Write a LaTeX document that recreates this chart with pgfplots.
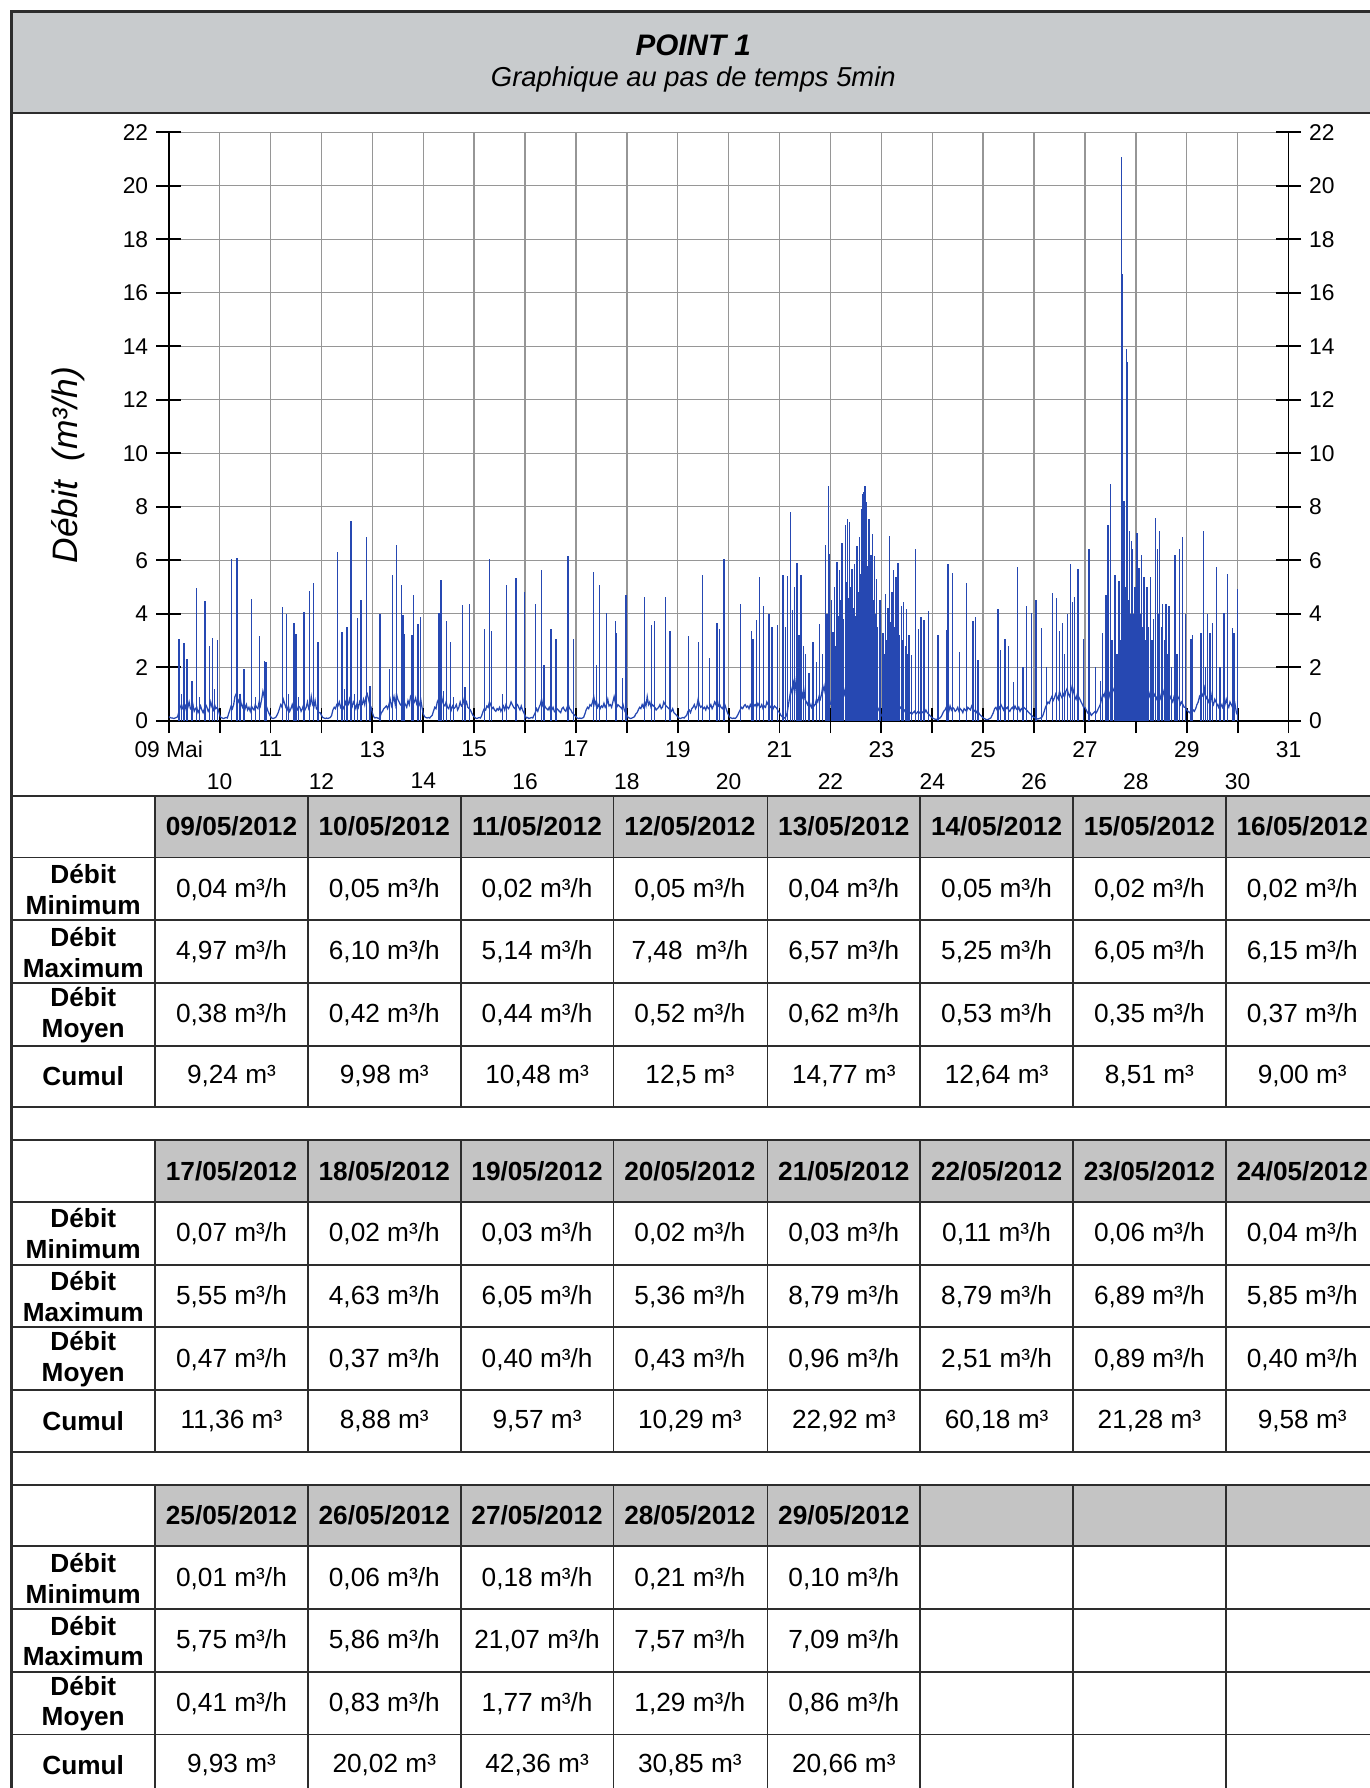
\documentclass[border=0pt]{standalone}
\usepackage{fontspec}
\setmainfont{Liberation Sans}
\usepackage{pgfplots}
\pgfplotsset{compat=1.18}
\definecolor{hdrgray}{RGB}{200,203,205}
\definecolor{cellgray}{RGB}{196,196,196}
\definecolor{framec}{RGB}{45,45,45}
\definecolor{gridgray}{RGB}{150,150,150}
\definecolor{dblue}{RGB}{38,72,178}
\pgfplotsset{
  base/.style={draw=dblue, line width=0.55pt},
  every axis/.append style={
    /pgf/number format/assume math mode=true,
    tick label style={font=\fontsize{10}{12}\selectfont},
  },
}
\tikzset{
  lab/.style={font=\bfseries\fontsize{11.5}{13.5}\selectfont, align=center},
  hdr/.style={font=\bfseries\fontsize{11.5}{14}\selectfont},
  val/.style={font=\fontsize{11.5}{14}\selectfont},
}
% one column of a daily table: x centre, table top, date, min, max, mean, total
\newcommand{\daycol}[7]{%
  \node[hdr] at (#1,#2+27) {#3};
  \node[val] at (#1,#2+82) {#4};
  \node[val] at (#1,#2+137) {#5};
  \node[val] at (#1,#2+192) {#6};
  \node[val] at (#1,#2+246) {#7};}

\begin{document}
\begin{tikzpicture}
\path[use as bounding box] (0,0) rectangle (600.5pt,-784pt);

\begin{scope}[x=0.5pt,y=-0.5pt]
  % title band
  \fill[hdrgray] (10,10) rectangle (1215,99);
  \draw[framec, line width=1.2pt] (1215,10) -- (10,10) -- (10,1580);
  \draw[framec, line width=1.2pt] (10,99) -- (1215,99);
  \node[font=\bfseries\itshape\fontsize{13}{15}\selectfont] at (608,40) {POINT 1};
  \node[font=\itshape\fontsize{12}{14}\selectfont] at (608,70) {Graphique au pas de temps 5min};
  \node[rotate=90, font=\itshape\fontsize{15.5}{18}\selectfont] at (60,408) {Débit\ \ (m³/h)};

  % tables
  \foreach \T in {698,1000,1302}{
    \fill[cellgray] (136,\T) rectangle (1215,\T+54);
    \foreach \o in {0,54,109,164,219,273}
      \draw[framec, line width=0.8pt] (10,\T+\o) -- (1215,\T+\o);
    \foreach \X in {136,270,404,538,673,807,941,1075}
      \draw[framec, line width=0.8pt] (\X,\T) -- (\X,\T+273);
    \node[lab] at (73,\T+82) {Débit\\Minimum};
    \node[lab] at (73,\T+137) {Débit\\Maximum};
    \node[lab] at (73,\T+192) {Débit\\Moyen};
    \node[lab] at (73,\T+246) {Cumul};
  }

  \daycol{203}{698}{09/05/2012}{0,04 m³/h}{4,97 m³/h}{0,38 m³/h}{9,24 m³}
  \daycol{337}{698}{10/05/2012}{0,05 m³/h}{6,10 m³/h}{0,42 m³/h}{9,98 m³}
  \daycol{471}{698}{11/05/2012}{0,02 m³/h}{5,14 m³/h}{0,44 m³/h}{10,48 m³}
  \daycol{605}{698}{12/05/2012}{0,05 m³/h}{7,48\enspace m³/h}{0,52 m³/h}{12,5 m³}
  \daycol{740}{698}{13/05/2012}{0,04 m³/h}{6,57 m³/h}{0,62 m³/h}{14,77 m³}
  \daycol{874}{698}{14/05/2012}{0,05 m³/h}{5,25 m³/h}{0,53 m³/h}{12,64 m³}
  \daycol{1008}{698}{15/05/2012}{0,02 m³/h}{6,05 m³/h}{0,35 m³/h}{8,51 m³}
  \daycol{1142}{698}{16/05/2012}{0,02 m³/h}{6,15 m³/h}{0,37 m³/h}{9,00 m³}

  \daycol{203}{1000}{17/05/2012}{0,07 m³/h}{5,55 m³/h}{0,47 m³/h}{11,36 m³}
  \daycol{337}{1000}{18/05/2012}{0,02 m³/h}{4,63 m³/h}{0,37 m³/h}{8,88 m³}
  \daycol{471}{1000}{19/05/2012}{0,03 m³/h}{6,05 m³/h}{0,40 m³/h}{9,57 m³}
  \daycol{605}{1000}{20/05/2012}{0,02 m³/h}{5,36 m³/h}{0,43 m³/h}{10,29 m³}
  \daycol{740}{1000}{21/05/2012}{0,03 m³/h}{8,79 m³/h}{0,96 m³/h}{22,92 m³}
  \daycol{874}{1000}{22/05/2012}{0,11 m³/h}{8,79 m³/h}{2,51 m³/h}{60,18 m³}
  \daycol{1008}{1000}{23/05/2012}{0,06 m³/h}{6,89 m³/h}{0,89 m³/h}{21,28 m³}
  \daycol{1142}{1000}{24/05/2012}{0,04 m³/h}{5,85 m³/h}{0,40 m³/h}{9,58 m³}

  \daycol{203}{1302}{25/05/2012}{0,01 m³/h}{5,75 m³/h}{0,41 m³/h}{9,93 m³}
  \daycol{337}{1302}{26/05/2012}{0,06 m³/h}{5,86 m³/h}{0,83 m³/h}{20,02 m³}
  \daycol{471}{1302}{27/05/2012}{0,18 m³/h}{21,07 m³/h}{1,77 m³/h}{42,36 m³}
  \daycol{605}{1302}{28/05/2012}{0,21 m³/h}{7,57 m³/h}{1,29 m³/h}{30,85 m³}
  \daycol{740}{1302}{29/05/2012}{0,10 m³/h}{7,09 m³/h}{0,86 m³/h}{20,66 m³}
\end{scope}

% flow chart
\begin{axis}[
  at={(74pt,-316pt)}, anchor=south west,
  scale only axis, width=491pt, height=258pt,
  xmin=9, xmax=31, ymin=0, ymax=22,
  axis x line*=bottom, axis y line*=left,
  axis line style={-, line width=0.8pt, black},
  tick align=center, major tick length=11pt,
  tick style={black, line width=0.8pt},
  grid=major,
  major grid style={gridgray, line width=0.6pt},
  xtick={9,11,...,31},
  xticklabels={09 Mai,11,13,15,17,19,21,23,25,27,29,31},
  extra x ticks={10,12,...,30},
  extra x tick labels={10,12,14,16,18,20,22,24,26,28,30},
  extra x tick style={grid=major, xticklabel style={yshift=-14pt}},
  ytick={0,2,...,22},
]
% background flow, one sample every 36 min
\addplot[base] table[row sep=\\, header=false, y index=0, x expr={9+\coordindex/40}] {0.15\\0.12\\0.10\\0.10\\0.08\\0.10\\0.12\\0.15\\0.35\\0.50\\0.60\\0.45\\0.40\\0.55\\0.35\\0.50\\0.70\\0.45\\0.40\\0.60\\0.35\\0.45\\0.50\\0.30\\0.40\\0.55\\0.40\\0.30\\0.45\\0.60\\0.50\\0.35\\0.45\\0.70\\0.50\\0.40\\0.60\\0.45\\0.50\\0.40\\0.20\\};
\addplot[base] table[row sep=\\, header=false, y index=0, x expr={10+\coordindex/40}] {0.20\\0.12\\0.10\\0.08\\0.10\\0.12\\0.10\\0.25\\0.40\\0.55\\0.45\\0.60\\0.90\\1.00\\0.80\\0.70\\0.90\\0.60\\0.50\\0.70\\0.45\\0.60\\0.40\\0.50\\0.35\\0.55\\0.45\\0.40\\0.60\\0.50\\0.45\\0.70\\0.55\\0.80\\1.10\\0.90\\0.60\\0.50\\0.35\\0.25\\0.15\\};
\addplot[base] table[row sep=\\, header=false, y index=0, x expr={11+\coordindex/40}] {0.15\\0.10\\0.08\\0.10\\0.12\\0.20\\0.30\\0.45\\0.60\\0.50\\0.80\\0.65\\0.50\\0.40\\0.55\\0.35\\0.45\\0.60\\0.40\\0.50\\0.35\\0.40\\0.55\\0.50\\0.35\\0.45\\0.60\\0.40\\0.50\\0.70\\0.45\\0.55\\0.90\\0.60\\0.50\\0.75\\0.45\\0.40\\0.30\\0.30\\0.20\\};
\addplot[base] table[row sep=\\, header=false, y index=0, x expr={12+\coordindex/40}] {0.20\\0.12\\0.10\\0.08\\0.10\\0.08\\0.10\\0.12\\0.20\\0.40\\0.50\\0.45\\0.60\\0.55\\0.70\\0.50\\0.60\\0.45\\0.55\\0.70\\0.50\\0.60\\0.80\\0.55\\0.50\\0.70\\0.60\\0.45\\0.65\\0.50\\0.70\\0.55\\0.60\\0.80\\0.60\\0.90\\1.00\\0.80\\0.60\\0.50\\0.30\\};
\addplot[base] table[row sep=\\, header=false, y index=0, x expr={13+\coordindex/40}] {0.30\\0.15\\0.10\\0.12\\0.10\\0.08\\0.12\\0.30\\0.35\\0.45\\0.50\\0.55\\0.45\\0.60\\0.80\\0.55\\0.70\\0.90\\0.60\\1.00\\0.80\\0.70\\0.60\\0.55\\0.50\\0.70\\0.60\\0.50\\0.75\\0.60\\0.90\\0.80\\0.60\\0.70\\0.85\\0.60\\0.50\\0.60\\0.80\\0.50\\0.25\\};
\addplot[base] table[row sep=\\, header=false, y index=0, x expr={14+\coordindex/40}] {0.25\\0.15\\0.12\\0.10\\0.12\\0.10\\0.15\\0.20\\0.35\\0.50\\0.45\\0.70\\0.80\\0.65\\1.00\\0.75\\0.60\\0.55\\0.70\\0.50\\0.45\\0.60\\0.40\\0.55\\0.45\\0.50\\0.60\\0.40\\0.50\\0.70\\0.55\\0.60\\0.80\\0.60\\0.70\\0.50\\0.45\\0.40\\0.30\\0.20\\0.15\\};
\addplot[base] table[row sep=\\, header=false, y index=0, x expr={15+\coordindex/40}] {0.15\\0.10\\0.08\\0.10\\0.12\\0.10\\0.20\\0.35\\0.45\\0.40\\0.55\\0.50\\0.70\\0.60\\0.45\\0.50\\0.40\\0.35\\0.45\\0.40\\0.50\\0.35\\0.45\\0.55\\0.40\\0.60\\0.50\\0.45\\0.55\\0.70\\0.60\\0.50\\0.45\\0.55\\0.60\\0.50\\0.40\\0.55\\0.40\\0.30\\0.20\\};
\addplot[base] table[row sep=\\, header=false, y index=0, x expr={16+\coordindex/40}] {0.20\\0.10\\0.12\\0.08\\0.10\\0.12\\0.10\\0.20\\0.30\\0.45\\0.35\\0.50\\0.60\\0.80\\0.55\\0.60\\0.50\\0.45\\0.40\\0.50\\0.35\\0.40\\0.50\\0.35\\0.30\\0.45\\0.40\\0.35\\0.30\\0.45\\0.50\\0.40\\0.35\\0.50\\0.60\\0.45\\0.40\\0.30\\0.25\\0.20\\0.15\\};
\addplot[base] table[row sep=\\, header=false, y index=0, x expr={17+\coordindex/40}] {0.15\\0.10\\0.08\\0.10\\0.08\\0.10\\0.12\\0.25\\0.40\\0.50\\0.45\\0.60\\0.55\\0.70\\0.90\\0.60\\0.75\\0.50\\0.60\\0.45\\0.55\\0.50\\0.65\\0.50\\0.60\\0.80\\0.55\\0.60\\0.50\\0.70\\0.90\\0.65\\0.50\\0.60\\0.55\\0.50\\0.45\\0.60\\0.40\\0.30\\0.20\\};
\addplot[base] table[row sep=\\, header=false, y index=0, x expr={18+\coordindex/40}] {0.20\\0.12\\0.10\\0.08\\0.10\\0.12\\0.15\\0.25\\0.30\\0.40\\0.50\\0.45\\0.60\\0.50\\0.70\\0.55\\0.90\\0.60\\0.70\\0.50\\0.60\\0.55\\0.50\\0.40\\0.45\\0.50\\0.60\\0.45\\0.50\\0.70\\0.60\\0.55\\0.50\\0.45\\0.40\\0.35\\0.45\\0.30\\0.25\\0.20\\0.15\\};
\addplot[base] table[row sep=\\, header=false, y index=0, x expr={19+\coordindex/40}] {0.15\\0.10\\0.08\\0.10\\0.12\\0.10\\0.15\\0.20\\0.35\\0.40\\0.30\\0.45\\0.50\\0.60\\0.45\\0.55\\0.80\\0.60\\0.50\\0.55\\0.45\\0.50\\0.40\\0.55\\0.45\\0.50\\0.60\\0.45\\0.55\\0.70\\0.60\\0.80\\0.55\\0.60\\0.50\\0.45\\0.55\\0.60\\0.45\\0.30\\0.20\\};
\addplot[base] table[row sep=\\, header=false, y index=0, x expr={20+\coordindex/40}] {0.20\\0.12\\0.10\\0.08\\0.10\\0.08\\0.12\\0.20\\0.30\\0.40\\0.50\\0.45\\0.55\\0.60\\0.50\\0.55\\0.45\\0.60\\0.50\\0.70\\0.55\\0.60\\0.50\\0.65\\0.55\\0.50\\0.60\\0.45\\0.55\\0.50\\0.70\\0.60\\0.55\\0.50\\0.60\\0.45\\0.55\\0.50\\0.45\\0.35\\0.30\\};
\addplot[base] table[row sep=\\, header=false, y index=0, x expr={21+\coordindex/40}] {0.30\\0.20\\0.15\\0.12\\0.10\\0.15\\0.30\\0.60\\0.90\\1.20\\1.00\\1.40\\1.10\\1.50\\1.20\\1.30\\1.00\\1.10\\0.90\\1.20\\0.80\\0.70\\0.60\\0.75\\0.60\\0.50\\0.70\\0.55\\0.60\\0.80\\0.70\\0.90\\0.80\\1.00\\1.30\\1.10\\1.40\\1.20\\1.00\\0.80\\0.60\\};
\addplot[base] table[row sep=\\, header=false, y index=0, x expr={22+\coordindex/40}] {0.60\\0.80\\0.70\\0.50\\0.45\\0.40\\0.50\\0.70\\0.90\\1.10\\1.30\\1.00\\1.20\\1.50\\1.20\\1.40\\1.60\\1.30\\1.50\\1.20\\1.40\\1.60\\1.30\\1.10\\1.40\\1.50\\1.20\\1.00\\1.30\\1.10\\0.90\\1.00\\0.80\\0.90\\0.70\\0.80\\0.60\\0.50\\0.40\\0.30\\0.20\\};
\addplot[base] table[row sep=\\, header=false, y index=0, x expr={23+\coordindex/40}] {0.20\\0.15\\0.20\\0.15\\0.20\\0.25\\0.30\\0.35\\0.40\\0.50\\0.45\\0.60\\0.50\\0.55\\0.40\\0.50\\0.45\\0.35\\0.40\\0.30\\0.35\\0.30\\0.25\\0.30\\0.25\\0.30\\0.35\\0.25\\0.30\\0.35\\0.30\\0.25\\0.30\\0.35\\0.30\\0.40\\0.30\\0.25\\0.20\\0.15\\0.10\\};
\addplot[base] table[row sep=\\, header=false, y index=0, x expr={24+\coordindex/40}] {0.10\\0.08\\0.06\\0.05\\0.06\\0.08\\0.10\\0.15\\0.25\\0.35\\0.40\\0.50\\0.45\\0.35\\0.55\\0.40\\0.50\\0.45\\0.35\\0.40\\0.50\\0.35\\0.45\\0.40\\0.30\\0.45\\0.40\\0.35\\0.50\\0.45\\0.40\\0.55\\0.45\\0.35\\0.40\\0.30\\0.35\\0.25\\0.20\\0.15\\0.10\\};
\addplot[base] table[row sep=\\, header=false, y index=0, x expr={25+\coordindex/40}] {0.10\\0.08\\0.05\\0.04\\0.05\\0.08\\0.10\\0.20\\0.30\\0.45\\0.50\\0.40\\0.55\\0.45\\0.60\\0.50\\0.40\\0.55\\0.45\\0.50\\0.40\\0.35\\0.45\\0.50\\0.40\\0.55\\0.45\\0.40\\0.50\\0.35\\0.45\\0.40\\0.50\\0.45\\0.40\\0.35\\0.30\\0.25\\0.20\\0.15\\0.12\\};
\addplot[base] table[row sep=\\, header=false, y index=0, x expr={26+\coordindex/40}] {0.12\\0.10\\0.08\\0.06\\0.08\\0.10\\0.12\\0.20\\0.35\\0.50\\0.60\\0.70\\0.65\\0.80\\0.90\\0.75\\0.85\\1.00\\0.90\\0.80\\1.10\\0.95\\0.85\\1.00\\0.90\\1.10\\1.20\\1.00\\0.90\\1.10\\1.30\\1.10\\0.90\\0.80\\1.00\\0.90\\0.80\\0.70\\0.60\\0.50\\0.50\\};
\addplot[base] table[row sep=\\, header=false, y index=0, x expr={27+\coordindex/40}] {0.50\\0.40\\0.30\\0.25\\0.30\\0.20\\0.25\\0.30\\0.35\\0.30\\0.40\\0.50\\0.60\\0.80\\1.00\\0.90\\1.10\\1.00\\1.20\\0.90\\1.10\\1.00\\1.20\\1.10\\0.90\\1.00\\1.20\\1.10\\1.20\\1.60\\2.00\\2.40\\2.00\\1.80\\2.20\\1.90\\1.60\\1.80\\1.50\\1.30\\1.40\\};
\addplot[base] table[row sep=\\, header=false, y index=0, x expr={28+\coordindex/40}] {1.40\\1.70\\1.30\\1.60\\1.20\\1.40\\1.10\\1.30\\1.00\\1.20\\1.10\\0.90\\1.00\\0.80\\0.90\\1.00\\0.80\\0.90\\0.70\\0.80\\1.00\\0.90\\1.10\\0.90\\0.80\\1.00\\0.70\\0.90\\0.80\\0.70\\0.90\\0.80\\0.70\\0.90\\0.80\\0.60\\0.70\\0.60\\0.50\\0.50\\0.40\\};
\addplot[base] table[row sep=\\, header=false, y index=0, x expr={29+\coordindex/40}] {0.40\\0.35\\0.30\\0.35\\0.30\\0.40\\0.35\\0.45\\0.60\\0.70\\0.90\\0.80\\1.00\\0.90\\1.20\\0.80\\0.90\\0.70\\0.80\\1.00\\0.70\\0.60\\0.80\\0.70\\0.60\\0.50\\0.70\\0.60\\0.50\\0.70\\0.60\\0.80\\0.60\\0.50\\0.70\\0.60\\0.50\\0.40\\0.60\\0.30\\0.20\\};

% flow peaks
\addplot[ycomb, draw=dblue, line width=0.6pt] table[row sep=\\] {
t v\\
9.20 3.07\\ 9.25 1.00\\ 9.30 2.90\\ 9.36 2.30\\ 9.46 1.50\\ 9.54 4.97\\ 9.60 0.90\\ 9.71 4.48\\ 9.80 2.80\\ 9.86 3.10\\ 9.90 1.20\\ 9.96 3.00\\
10.23 6.06\\ 10.34 6.10\\ 10.40 1.00\\ 10.48 1.95\\ 10.63 4.55\\ 10.70 0.90\\ 10.78 3.17\\ 10.88 2.24\\ 10.91 2.20\\
11.23 4.25\\ 11.31 3.98\\ 11.35 1.00\\ 11.46 3.66\\ 11.50 3.23\\ 11.55 0.90\\ 11.66 4.07\\ 11.76 4.85\\ 11.84 5.14\\ 11.93 2.95\\
12.31 6.30\\ 12.40 3.30\\ 12.45 1.20\\ 12.50 3.50\\ 12.58 7.48\\ 12.65 1.00\\ 12.71 3.84\\ 12.78 4.50\\ 12.88 6.87\\ 12.95 1.30\\
13.15 3.98\\ 13.34 1.95\\ 13.39 5.43\\ 13.48 6.57\\ 13.57 5.08\\ 13.60 3.94\\ 13.63 3.23\\ 13.78 3.20\\ 13.81 4.69\\ 13.90 3.63\\ 13.95 3.88\\
14.31 4.04\\ 14.35 5.25\\ 14.40 1.10\\ 14.46 3.73\\ 14.54 2.95\\ 14.60 0.90\\ 14.77 4.32\\ 14.82 1.27\\ 14.91 4.38\\
15.20 3.42\\ 15.30 6.05\\ 15.34 3.35\\ 15.56 0.98\\ 15.63 5.06\\ 15.82 5.35\\ 15.99 4.81\\
16.20 4.38\\ 16.32 5.62\\ 16.37 2.08\\ 16.51 3.42\\ 16.61 3.07\\ 16.84 6.15\\ 16.95 3.07\\
17.34 5.55\\ 17.40 2.10\\ 17.46 5.06\\ 17.60 4.03\\ 17.78 3.73\\ 17.80 3.28\\ 17.91 1.60\\ 17.98 4.71\\
18.35 4.63\\ 18.48 3.57\\ 18.54 3.72\\ 18.76 4.63\\ 18.85 3.36\\
19.21 3.16\\ 19.41 2.95\\ 19.49 5.46\\ 19.62 2.36\\ 19.77 3.67\\ 19.82 3.42\\ 19.91 6.05\\
20.23 4.38\\ 20.45 3.36\\ 20.48 3.07\\ 20.55 3.76\\ 20.60 5.36\\ 20.69 4.29\\ 20.79 3.98\\ 20.85 3.50\\ 20.96 3.57\\
21.07 5.43\\ 21.12 3.50\\ 21.16 5.41\\ 21.21 7.80\\ 21.25 4.13\\ 21.29 4.98\\ 21.34 5.90\\ 21.38 3.20\\ 21.42 5.43\\ 21.47 2.80\\ 21.51 2.51\\ 21.58 1.80\\ 21.66 2.95\\ 21.72 2.20\\ 21.78 3.63\\ 21.84 2.51\\ 21.90 6.55\\ 21.93 4.00\\ 21.96 8.79\\ 21.98 6.24\\
22.02 4.50\\ 22.05 3.32\\ 22.08 5.00\\ 22.10 2.80\\ 22.13 5.93\\ 22.16 3.90\\ 22.18 5.62\\ 22.21 4.50\\ 22.23 6.65\\ 22.26 3.80\\ 22.29 7.30\\ 22.31 5.20\\ 22.33 7.55\\ 22.35 4.60\\ 22.37 7.42\\ 22.40 5.00\\ 22.42 5.68\\ 22.45 4.20\\ 22.47 5.87\\ 22.50 3.90\\ 22.52 6.53\\ 22.54 4.80\\ 22.57 6.87\\ 22.59 5.50\\ 22.61 7.92\\ 22.63 8.48\\ 22.645 6.00\\ 22.66 8.55\\ 22.68 8.79\\ 22.70 6.50\\ 22.71 8.17\\ 22.73 5.80\\ 22.76 7.55\\ 22.78 5.00\\ 22.80 6.20\\ 22.82 6.99\\ 22.84 4.50\\ 22.86 6.16\\ 22.88 4.00\\ 22.91 5.31\\ 22.93 3.50\\ 22.97 4.50\\
23.03 3.26\\ 23.06 2.50\\ 23.08 4.75\\ 23.11 3.00\\ 23.13 4.20\\ 23.16 6.89\\ 23.19 3.69\\ 23.21 4.80\\ 23.24 5.62\\ 23.27 3.50\\ 23.29 5.37\\ 23.31 4.00\\ 23.33 5.90\\ 23.36 3.20\\ 23.39 4.29\\ 23.42 3.00\\ 23.44 4.44\\ 23.47 2.80\\ 23.49 4.19\\ 23.52 2.50\\ 23.54 3.20\\ 23.59 2.45\\ 23.67 6.43\\ 23.73 3.41\\ 23.78 3.88\\ 23.84 3.76\\ 23.93 4.09\\
24.11 3.22\\ 24.28 3.38\\ 24.31 5.85\\ 24.40 5.53\\ 24.53 2.55\\ 24.67 5.16\\ 24.80 3.73\\ 24.85 3.86\\ 24.90 2.26\\
25.29 4.19\\ 25.34 2.64\\ 25.43 3.07\\ 25.50 2.80\\ 25.59 1.43\\ 25.68 5.75\\ 25.78 2.01\\ 25.85 4.28\\ 25.95 4.03\\
26.04 4.50\\ 26.15 3.48\\ 26.25 2.00\\ 26.36 4.79\\ 26.44 4.60\\ 26.50 3.36\\ 26.56 3.67\\ 26.60 2.50\\ 26.66 4.00\\ 26.72 5.86\\ 26.75 4.43\\ 26.80 4.64\\ 26.86 5.67\\ 26.97 3.07\\
27.08 6.43\\ 27.21 2.00\\ 27.30 1.50\\ 27.35 3.29\\ 27.41 4.69\\ 27.45 7.33\\ 27.50 8.86\\ 27.53 3.00\\ 27.59 5.46\\ 27.63 2.50\\ 27.67 5.24\\ 27.70 3.00\\ 27.72 21.07\\ 27.735 12.00\\ 27.74 16.70\\ 27.755 8.00\\ 27.77 8.20\\ 27.79 5.00\\ 27.82 13.90\\ 27.84 13.40\\ 27.86 4.50\\ 27.88 7.10\\ 27.90 4.00\\ 27.92 6.70\\ 27.94 6.43\\ 27.96 4.00\\ 27.98 5.00\\
28.02 7.00\\ 28.04 3.80\\ 28.06 5.70\\ 28.09 4.00\\ 28.11 6.19\\ 28.14 3.50\\ 28.16 5.36\\ 28.19 3.00\\ 28.22 5.00\\ 28.25 3.50\\ 28.29 5.39\\ 28.32 3.00\\ 28.35 3.80\\ 28.39 7.57\\ 28.42 6.43\\ 28.45 4.00\\ 28.47 7.10\\ 28.50 3.50\\ 28.52 4.36\\ 28.56 3.00\\ 28.59 4.36\\ 28.62 2.50\\ 28.65 4.29\\ 28.70 2.00\\ 28.77 6.19\\ 28.81 2.50\\ 28.86 6.43\\ 28.92 6.86\\ 28.97 4.00\\
29.08 3.07\\ 29.11 3.21\\ 29.28 3.29\\ 29.33 7.09\\ 29.37 2.00\\ 29.41 4.00\\ 29.46 3.29\\ 29.50 3.64\\ 29.59 5.76\\ 29.65 2.00\\ 29.73 4.03\\ 29.80 5.47\\ 29.90 3.46\\ 29.93 3.29\\ 29.995 4.93\\
};
\end{axis}

% right-hand scale
\begin{axis}[
  at={(74pt,-316pt)}, anchor=south west,
  scale only axis, width=491pt, height=258pt,
  xmin=9, xmax=31, ymin=0, ymax=22,
  axis y line*=right, axis x line=none,
  axis line style={-, line width=0.8pt, black},
  tick align=center, major tick length=11pt,
  tick style={black, line width=0.8pt},
  ytick={0,2,...,22},
]
\end{axis}
\end{tikzpicture}
\end{document}
